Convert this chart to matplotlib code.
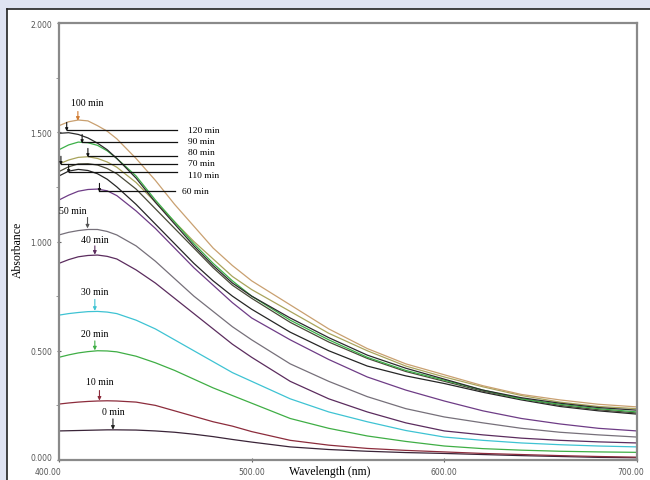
import numpy as np
import matplotlib
matplotlib.use("Agg")
import matplotlib.pyplot as plt
import matplotlib.transforms as mtransforms
from matplotlib.patches import Rectangle
from matplotlib.lines import Line2D

wavelength = [400, 405, 410, 415, 420, 425, 430, 440, 450, 460, 470, 480, 490, 500,
              520, 540, 560, 580, 600, 620, 640, 660, 680, 700]

abs_100 = [1.53, 1.548, 1.556, 1.552, 1.53, 1.505, 1.47, 1.38, 1.28, 1.17, 1.07, 0.97, 0.89, 0.82,
           0.71, 0.60, 0.51, 0.44, 0.39, 0.34, 0.30, 0.275, 0.255, 0.243]
abs_120 = [1.495, 1.498, 1.49, 1.474, 1.45, 1.42, 1.38, 1.29, 1.18, 1.08, 0.98, 0.89, 0.81, 0.75,
           0.65, 0.56, 0.48, 0.42, 0.37, 0.32, 0.285, 0.26, 0.24, 0.228]
abs_90 = [1.42, 1.442, 1.455, 1.452, 1.44, 1.415, 1.38, 1.30, 1.19, 1.09, 0.99, 0.90, 0.82, 0.75,
          0.64, 0.55, 0.47, 0.41, 0.365, 0.32, 0.28, 0.255, 0.235, 0.22]
abs_80 = [1.355, 1.373, 1.385, 1.388, 1.38, 1.364, 1.34, 1.27, 1.18, 1.09, 1.00, 0.92, 0.84, 0.78,
          0.68, 0.58, 0.50, 0.43, 0.38, 0.335, 0.295, 0.265, 0.245, 0.235]
abs_70 = [1.32, 1.342, 1.355, 1.356, 1.35, 1.334, 1.31, 1.24, 1.15, 1.06, 0.97, 0.88, 0.80, 0.74,
          0.63, 0.54, 0.465, 0.405, 0.36, 0.315, 0.28, 0.25, 0.23, 0.215]
abs_110 = [1.30, 1.322, 1.33, 1.325, 1.31, 1.285, 1.25, 1.17, 1.08, 0.99, 0.90, 0.82, 0.75, 0.69,
           0.585, 0.50, 0.43, 0.385, 0.35, 0.31, 0.275, 0.245, 0.225, 0.21]
abs_60 = [1.19, 1.212, 1.23, 1.238, 1.24, 1.232, 1.21, 1.14, 1.06, 0.97, 0.88, 0.80, 0.72, 0.65,
          0.55, 0.46, 0.38, 0.32, 0.27, 0.225, 0.19, 0.165, 0.145, 0.133]
abs_50 = [1.03, 1.042, 1.05, 1.055, 1.055, 1.046, 1.03, 0.98, 0.91, 0.83, 0.75, 0.68, 0.61, 0.55,
          0.44, 0.36, 0.29, 0.235, 0.197, 0.17, 0.145, 0.127, 0.115, 0.105]
abs_40 = [0.90, 0.917, 0.93, 0.936, 0.938, 0.932, 0.92, 0.87, 0.81, 0.74, 0.67, 0.60, 0.53, 0.47,
          0.36, 0.28, 0.22, 0.17, 0.133, 0.115, 0.10, 0.09, 0.083, 0.078]
abs_30 = [0.663, 0.67, 0.675, 0.679, 0.68, 0.677, 0.67, 0.64, 0.60, 0.55, 0.50, 0.45, 0.40, 0.36,
          0.28, 0.22, 0.175, 0.135, 0.105, 0.09, 0.078, 0.07, 0.064, 0.06]
abs_20 = [0.47, 0.481, 0.49, 0.496, 0.50, 0.499, 0.495, 0.475, 0.445, 0.41, 0.37, 0.33, 0.295, 0.26,
          0.19, 0.145, 0.11, 0.085, 0.064, 0.052, 0.045, 0.04, 0.037, 0.035]
abs_10 = [0.256, 0.261, 0.265, 0.268, 0.27, 0.271, 0.27, 0.265, 0.25, 0.225, 0.20, 0.175, 0.155, 0.13,
          0.09, 0.068, 0.053, 0.044, 0.037, 0.03, 0.025, 0.02, 0.016, 0.013]
abs_0 = [0.133, 0.134, 0.135, 0.136, 0.137, 0.138, 0.138, 0.137, 0.133, 0.127, 0.118, 0.107, 0.094, 0.082,
         0.06, 0.048, 0.04, 0.034, 0.03, 0.025, 0.02, 0.016, 0.012, 0.01]

series = [
    (abs_0, "#3a2438"), (abs_10, "#8c2c3c"), (abs_20, "#3fae45"),
    (abs_30, "#3ec3d3"), (abs_40, "#5b2c5e"), (abs_50, "#76707a"),
    (abs_60, "#6e3c86"), (abs_110, "#262626"), (abs_70, "#4a4a38"),
    (abs_80, "#a9a45c"), (abs_90, "#3cb048"), (abs_120, "#2c2c2c"),
    (abs_100, "#c9a070"),
]

# labels above peaks: (text, text x, text y, arrow x, arrow top, arrow tip, colour)
top_labels = [
    ("100 min", 414.5, 1.635, 409.8, 1.595, 1.553, "#d07a30"),
    ("50 min", 407.0, 1.14, 414.8, 1.11, 1.06, "#555555"),
    ("40 min", 418.6, 1.01, 418.6, 0.98, 0.94, "#5b2c5e"),
    ("30 min", 418.6, 0.77, 418.6, 0.735, 0.683, "#3ec3d3"),
    ("20 min", 418.6, 0.577, 418.6, 0.545, 0.502, "#3fae45"),
    ("10 min", 421.0, 0.357, 421.0, 0.318, 0.272, "#8c2c3c"),
    ("0 min", 428.0, 0.224, 428.0, 0.188, 0.139, "#222222"),
]
# labels at the end of leader lines: (text, y, line start x, text y)
side_labels = [
    ("120 min", 1.51, 404.0, 1.51),
    ("90 min", 1.455, 412.0, 1.458),
    ("80 min", 1.391, 415.0, 1.41),
    ("70 min", 1.355, 401.0, 1.358),
    ("110 min", 1.318, 405.0, 1.306),
    ("60 min", 1.231, 421.0, 1.231),
]

fig = plt.figure(figsize=(6.5, 4.81), dpi=100)
fig.patch.set_facecolor("#dfe3f2")

# white panel with dark top/left edge
fig.patches.append(Rectangle((7 / 650, 0), 1, 1 - 10 / 481, transform=fig.transFigure,
                             facecolor="white", edgecolor="none", zorder=-2))
fig.lines.append(Line2D([7 / 650, 1], [1 - 10 / 481] * 2, transform=fig.transFigure,
                        color="#222222", lw=1.2, zorder=-1))
fig.lines.append(Line2D([7 / 650] * 2, [0, 1 - 10 / 481], transform=fig.transFigure,
                        color="#222222", lw=1.2, zorder=-1))

ax = fig.add_axes([59 / 650, 1 - 461 / 481, (637 - 59) / 650, (461 - 24) / 481])
ax.set_zorder(2)
ax.set_facecolor("white")

for vals, col in series:
    ax.plot(wavelength, vals, color=col, lw=0.9)

serif = "Liberation Serif"
for txt, tx, ty, axx, a0, a1, col in top_labels:
    ax.text(tx, ty, txt, family=serif, fontsize=7, ha="center", va="center")
    ax.annotate("", xy=(axx, a1), xytext=(axx, a0),
                arrowprops=dict(arrowstyle="-|>", color=col, lw=0.8,
                                mutation_scale=5, shrinkA=0, shrinkB=0))

for txt, y, x0, ty in side_labels:
    x1 = 461.5 if txt != "60 min" else 460.0
    ax.plot([x0, x1], [y, y], color="#111111", lw=0.9)
    ax.text(x1 + 5.5 if txt != "60 min" else x1 + 4, ty, txt, family=serif,
            fontsize=6.8, ha="left", va="center")
    ax.annotate("", xy=(x0, y - 0.005), xytext=(x0, y + 0.035),
                arrowprops=dict(arrowstyle="-|>", color="#111111", lw=0.8,
                                mutation_scale=4, shrinkA=0, shrinkB=0))

ax.set_xlim(400, 700)
ax.set_ylim(0, 2.0)
ax.set_xticks([400, 500, 600, 700])
ax.set_xticklabels(["400.00", "500.00", "600.00", "700.00"])
ax.set_yticks([0, 0.5, 1.0, 1.5, 2.0])
ax.set_yticklabels(["0.000", "0.500", "1.000", "1.500", "2.000"])
ax.set_yticks(np.arange(0, 2.01, 0.25), minor=True)
ax.tick_params(axis="both", labelsize=5.5, labelcolor="#555555", color="#666666",
               length=3, width=0.8, direction="inout")
ax.tick_params(axis="x", pad=3.5)
ax.tick_params(axis="y", which="minor", length=2, width=0.6, color="#888888")
for s in ax.spines.values():
    s.set_color("#8a8a8a")
    s.set_linewidth(1.6)

# nudge the corner labels like the reference
xlabs = ax.get_xticklabels()
xlabs[0].set_transform(xlabs[0].get_transform() +
                       mtransforms.ScaledTranslation(-0.11, 0, fig.dpi_scale_trans))
xlabs[3].set_transform(xlabs[3].get_transform() +
                       mtransforms.ScaledTranslation(-0.06, 0, fig.dpi_scale_trans))
ylabs = ax.get_yticklabels()
ylabs[0].set_transform(ylabs[0].get_transform() +
                       mtransforms.ScaledTranslation(0, 0.03, fig.dpi_scale_trans))

fig.text(330 / 650, 1 - 472 / 481, "Wavelength (nm)", family=serif, fontsize=8.5,
         ha="center", va="center")
fig.text(18 / 650, 1 - 250 / 481, "Absorbance", family=serif, fontsize=8.5,
         ha="center", va="center", rotation=90)

fig.savefig("out.png", dpi=100, facecolor=fig.get_facecolor())
